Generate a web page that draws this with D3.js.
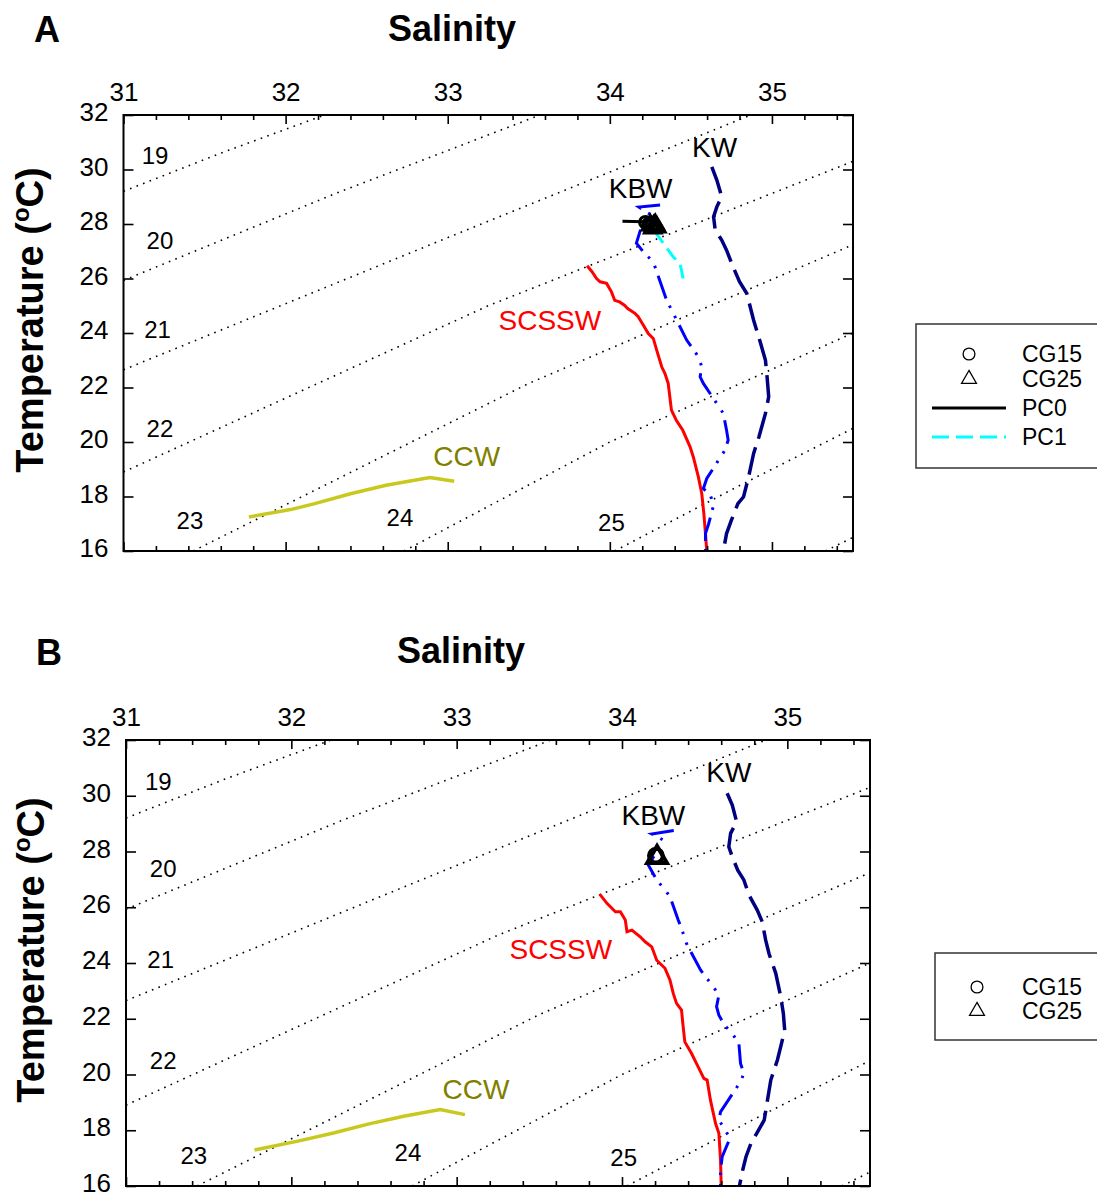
<!DOCTYPE html>
<html>
<head>
<meta charset="utf-8">
<script src="https://cdn.jsdelivr.net/npm/d3@7"></script>
<style>
  body { margin: 0; background: #fff; }
  svg { display: block; font-family: "Liberation Sans", Arial, sans-serif; }
</style>
</head>
<body>
<div id="plot"></div>
<script>
// axis values
const salinityTicks = [31, 32, 33, 34, 35];
const salinityMinor = [31.2, 31.4, 31.6, 31.8, 32.2, 32.4, 32.6, 32.8, 33.2, 33.4, 33.6, 33.8,
  34.2, 34.4, 34.6, 34.8, 35.2, 35.4];
const tempTicks = [16, 18, 20, 22, 24, 26, 28, 30, 32];

// sigma-t isopycnals, [salinity, temperature]
const sigmaLines = [
  [[31, 29.2], [31.6, 30.6], [32.24, 32]],
  [[31, 25.93], [32.3, 29.1], [33.57, 32]],
  [[31, 22.65], [33.0, 27.5], [34.87, 32]],
  [[31, 18.9], [33.25, 25.0], [35.5, 30.3]],
  [[31.43, 16], [33.5, 22.15], [35.5, 27.24]],
  [[32.73, 16], [34.0, 20.0], [35.5, 24.0]],
  [[34.03, 16], [34.8, 18.4], [35.5, 20.5]],
  [[35.33, 16], [35.5, 16.5]]
];
const sigmaLabels = ['19', '20', '21', '22', '23', '24', '25'];
const sigmaLabelS = [31.195, 31.225, 31.21, 31.225, 31.41, 32.705, 34.01];
const sigmaLabelT = [30.5, 27.38, 24.11, 20.51, 17.1, 17.21, 17.03];

// water mass labels
const massNames = ['KW', 'KBW', 'SCSSW', 'CCW'];
const massColors = ['#000', '#000', '#ff0000', '#808000'];
const massS = [34.646, 34.19, 33.63, 33.117];
const massT = [30.83, 29.32, 24.48, 19.49];

// panel A profiles
const scsswA = [[33.86, 26.47], [33.89, 26.25], [33.918, 26.0], [33.94, 25.88], [33.98, 25.82], [34.01, 25.51],
  [34.03, 25.2], [34.06, 25.14], [34.09, 25.02], [34.11, 24.9], [34.155, 24.72], [34.175, 24.6], [34.206, 24.29],
  [34.237, 23.98], [34.268, 23.8], [34.289, 23.37], [34.32, 22.76], [34.34, 22.51], [34.36, 22.15], [34.38, 21.17],
  [34.41, 20.8], [34.45, 20.43], [34.495, 19.82], [34.515, 19.45], [34.546, 18.72], [34.567, 18.11], [34.58, 17.37],
  [34.59, 16.64], [34.598, 16.0]];
const kwA = [[34.629, 30.1], [34.66, 29.61], [34.69, 29.0], [34.66, 28.63], [34.64, 28.27], [34.65, 27.78],
  [34.69, 27.41], [34.72, 27.04], [34.76, 26.43], [34.8, 25.88], [34.845, 25.45], [34.887, 24.47], [34.93, 23.62],
  [34.96, 23.0], [34.97, 22.39], [34.98, 21.66], [34.96, 21.05], [34.92, 20.19], [34.887, 19.58], [34.856, 18.72],
  [34.825, 17.99], [34.79, 17.74], [34.75, 17.13], [34.72, 16.64], [34.7, 16.0]];
const kbwA = [[34.31, 28.7], [34.18, 28.62], [34.255, 28.33], [34.195, 27.9], [34.164, 27.3], [34.21, 26.95],
  [34.268, 26.61], [34.35, 25.21], [34.474, 23.74], [34.546, 23.13], [34.567, 22.76], [34.557, 22.39],
  [34.577, 22.15], [34.66, 21.41], [34.7, 21.05], [34.72, 20.43], [34.73, 20.07], [34.71, 19.7], [34.598, 18.66],
  [34.577, 18.29], [34.62, 18.05], [34.64, 17.68], [34.61, 17.01], [34.59, 16.64], [34.59, 16.0]];
const ccwA = [[31.774, 17.25], [32.03, 17.52], [32.18, 17.74], [32.4, 18.1], [32.62, 18.41], [32.89, 18.7],
  [33.04, 18.56]];
const pc0A = [[34.078, 28.1], [34.21, 28.08]];
const pc1A = [[34.278, 27.72], [34.33, 27.29], [34.39, 26.8], [34.433, 26.55], [34.454, 25.94]];
const cg15A = [[34.22, 28.06], [34.24, 28.0], [34.26, 27.96]];
const cg25A = [[34.25, 27.96], [34.27, 27.92], [34.29, 27.88], [34.265, 27.85], [34.28, 27.98]];

// panel B profiles
const scsswB = [[33.865, 26.47], [33.909, 26.14], [33.96, 25.84], [33.99, 25.84], [34.02, 25.54], [34.03, 25.12],
  [34.06, 25.18], [34.11, 24.94], [34.14, 24.76], [34.18, 24.58], [34.21, 24.1], [34.26, 23.81], [34.29, 23.39],
  [34.31, 22.91], [34.33, 22.55], [34.36, 22.31], [34.37, 21.71], [34.38, 21.17], [34.42, 20.76], [34.46, 20.28],
  [34.495, 19.86], [34.515, 19.8], [34.535, 19.08], [34.566, 18.24], [34.586, 17.89], [34.596, 16.93],
  [34.6, 16.0]];
const kwB = [[34.636, 30.09], [34.667, 29.67], [34.693, 29.07], [34.657, 28.65], [34.646, 28.17], [34.667, 27.81],
  [34.7, 27.33], [34.737, 26.98], [34.768, 26.44], [34.818, 25.9], [34.848, 25.48], [34.869, 24.82],
  [34.889, 24.34], [34.93, 23.63], [34.96, 22.79], [34.976, 22.19], [34.984, 21.59], [34.96, 21.0],
  [34.94, 20.52], [34.9, 19.8], [34.88, 19.08], [34.86, 18.36], [34.82, 17.94], [34.78, 17.53], [34.75, 17.05],
  [34.73, 16.57], [34.71, 16.0]];
const kbwB = [[34.313, 28.75], [34.18, 28.63], [34.25, 28.41], [34.2, 27.9], [34.16, 27.51], [34.21, 26.98],
  [34.26, 26.62], [34.29, 26.38], [34.34, 25.54], [34.36, 25.24], [34.39, 24.7], [34.475, 23.75], [34.505, 23.51],
  [34.545, 23.21], [34.586, 22.85], [34.572, 22.43], [34.586, 22.13], [34.62, 21.77], [34.667, 21.47],
  [34.707, 21.11], [34.717, 20.4], [34.737, 20.04], [34.717, 19.74], [34.596, 18.66], [34.586, 18.36],
  [34.626, 18.0], [34.652, 17.7], [34.606, 17.05], [34.596, 16.57], [34.596, 16.0]];
const ccwB = [[31.777, 17.29], [32.04, 17.61], [32.255, 17.9], [32.47, 18.23], [32.68, 18.5], [32.9, 18.74],
  [33.05, 18.56]];
const cg15B = [[34.205, 27.85]];
const cg25B = [[34.212, 27.79]];

const svg = d3.select('#plot')
  .append('svg')
  .attr('width', 1097)
  .attr('height', 1198);

svg.append('rect').attr('width', 1097).attr('height', 1198).attr('fill', '#fff');

function drawPanel(p) {
  const x = d3.scaleLinear().domain([31, 35.5]).range([p.left, p.right]);
  const y = d3.scaleLinear().domain([16, 32]).range([p.bottom, p.top]);
  const line = d3.line().x(d => x(d[0])).y(d => y(d[1]));

  svg.append('clipPath').attr('id', 'clip' + p.name)
    .append('rect')
    .attr('x', p.left).attr('y', p.top)
    .attr('width', p.right - p.left).attr('height', p.bottom - p.top);

  const plot = svg.append('g').attr('clip-path', 'url(#clip' + p.name + ')');

  // isopycnals
  plot.selectAll('path.sigma')
    .data(sigmaLines)
    .enter()
    .append('path')
    .attr('class', 'sigma')
    .attr('d', line)
    .attr('fill', 'none')
    .attr('stroke', '#000')
    .attr('stroke-width', 1.6)
    .attr('stroke-dasharray', '1.6,5.4');

  svg.selectAll('text.sig' + p.name)
    .data(sigmaLabels)
    .enter()
    .append('text')
    .attr('class', 'sig' + p.name)
    .attr('x', (d, i) => x(sigmaLabelS[i]))
    .attr('y', (d, i) => y(sigmaLabelT[i]))
    .attr('dy', '0.35em')
    .attr('text-anchor', 'middle')
    .attr('font-size', 24)
    .text(d => d);

  // profiles
  const series = [
    {d: p.ccw, color: '#c8c81e', w: 3.5, dash: null},
    {d: p.scssw, color: '#ff0000', w: 3, dash: null},
    {d: p.kw, color: '#000080', w: 3.5, dash: '28,9'},
    {d: p.kbw, color: '#0000ff', w: 3, dash: '24,8,2.5,9,2.5,8'},
    {d: p.pc1, color: '#00ffff', w: 3, dash: '14,7'},
    {d: p.pc0, color: '#000', w: 3, dash: null}
  ].filter(s => s.d);

  plot.selectAll('path.prof')
    .data(series)
    .enter()
    .append('path')
    .attr('class', 'prof')
    .attr('d', s => line(s.d))
    .attr('fill', 'none')
    .attr('stroke', s => s.color)
    .attr('stroke-width', s => s.w)
    .attr('stroke-dasharray', s => s.dash);

  const tri = d3.symbol().type(d3.symbolTriangle).size(p.triSize);
  const circ = d3.symbol().type(d3.symbolCircle).size(p.circSize);
  plot.selectAll('path.cg15')
    .data(p.cg15).enter().append('path')
    .attr('class', 'cg15')
    .attr('d', circ)
    .attr('transform', d => `translate(${x(d[0])},${y(d[1])})`)
    .attr('fill', 'none').attr('stroke', '#000').attr('stroke-width', p.symW);
  plot.selectAll('path.cg25')
    .data(p.cg25).enter().append('path')
    .attr('class', 'cg25')
    .attr('d', tri)
    .attr('transform', d => `translate(${x(d[0])},${y(d[1])})`)
    .attr('fill', 'none').attr('stroke', '#000').attr('stroke-width', p.symW);

  svg.selectAll('text.mass' + p.name)
    .data(massNames)
    .enter()
    .append('text')
    .attr('class', 'mass' + p.name)
    .attr('x', (d, i) => x(massS[i]))
    .attr('y', (d, i) => y(massT[i]))
    .attr('dy', '0.35em')
    .attr('text-anchor', 'middle')
    .attr('font-size', 28)
    .attr('fill', (d, i) => massColors[i])
    .text(d => d);

  // axes, ticks point inward
  function styleAxis(g) {
    g.select('.domain').remove();
    g.selectAll('line').attr('stroke', '#000').attr('stroke-width', 1.6);
    g.selectAll('text').attr('font-size', 26).attr('fill', '#000')
      .attr('font-family', '"Liberation Sans", Arial, sans-serif');
  }
  svg.append('g').attr('transform', `translate(0,${p.top})`)
    .call(d3.axisTop(x).tickValues(salinityTicks).tickSize(-9).tickSizeOuter(0).tickPadding(14).tickFormat(d3.format('d')))
    .call(styleAxis);
  svg.append('g').attr('transform', `translate(0,${p.top})`)
    .call(d3.axisTop(x).tickValues(salinityMinor).tickSize(-5).tickSizeOuter(0).tickFormat(''))
    .call(styleAxis);
  svg.append('g').attr('transform', `translate(0,${p.bottom})`)
    .call(d3.axisBottom(x).tickValues(salinityTicks).tickSize(-9).tickSizeOuter(0).tickFormat(''))
    .call(styleAxis);
  svg.append('g').attr('transform', `translate(0,${p.bottom})`)
    .call(d3.axisBottom(x).tickValues(salinityMinor).tickSize(-5).tickSizeOuter(0).tickFormat(''))
    .call(styleAxis);
  svg.append('g').attr('transform', `translate(${p.left},0)`)
    .call(d3.axisLeft(y).tickValues(tempTicks).tickSize(-10).tickSizeOuter(0).tickPadding(15).tickFormat(d3.format('d')))
    .call(styleAxis)
    .selectAll('text').attr('dy', '0.22em');
  svg.append('g').attr('transform', `translate(${p.right},0)`)
    .call(d3.axisRight(y).tickValues(tempTicks).tickSize(-10).tickSizeOuter(0).tickFormat(''))
    .call(styleAxis);

  svg.append('rect')
    .attr('x', p.left).attr('y', p.top)
    .attr('width', p.right - p.left).attr('height', p.bottom - p.top)
    .attr('fill', 'none').attr('stroke', '#000').attr('stroke-width', 2);

  // titles
  svg.append('text')
    .attr('x', p.letterX).attr('y', p.letterY)
    .attr('text-anchor', 'middle').attr('font-weight', 'bold').attr('font-size', 36)
    .text(p.name);
  svg.append('text')
    .attr('x', p.titleX).attr('y', p.titleY)
    .attr('text-anchor', 'middle').attr('font-weight', 'bold').attr('font-size', 36)
    .text('Salinity');
  const yt = svg.append('text')
    .attr('transform', `translate(${p.ytitleX},${p.ytitleY}) rotate(-90)`)
    .attr('text-anchor', 'middle').attr('font-weight', 'bold').attr('font-size', 38);
  yt.append('tspan').text('Temperature (');
  yt.append('tspan').attr('dy', -14).attr('font-size', 24).text('o');
  yt.append('tspan').attr('dy', 14).text('C)');
}

function drawLegend(l) {
  const g = svg.append('g');
  g.append('rect')
    .attr('x', l.x).attr('y', l.y).attr('width', 220).attr('height', l.h)
    .attr('fill', '#fff').attr('stroke', '#333').attr('stroke-width', 1.5);
  l.items.forEach(it => {
    if (it.type === 'circle' || it.type === 'triangle') {
      g.append('path')
        .attr('d', d3.symbol().type(it.type === 'circle' ? d3.symbolCircle : d3.symbolTriangle).size(it.type === 'circle' ? 110 : 95))
        .attr('transform', `translate(${l.symX},${it.y})`)
        .attr('fill', 'none').attr('stroke', '#000').attr('stroke-width', 1.3);
    } else {
      g.append('line')
        .attr('x1', l.lineX1).attr('x2', l.lineX2).attr('y1', it.y).attr('y2', it.y)
        .attr('stroke', it.color).attr('stroke-width', 3)
        .attr('stroke-dasharray', it.dash);
    }
    g.append('text')
      .attr('x', l.textX).attr('y', it.y).attr('dy', '0.35em')
      .attr('font-size', 23)
      .text(it.label);
  });
}

drawPanel({
  name: 'A', left: 123.5, right: 853, top: 115, bottom: 551,
  letterX: 47, letterY: 42, titleX: 452, titleY: 41, ytitleX: 43, ytitleY: 320,
  scssw: scsswA, kw: kwA, kbw: kbwA, ccw: ccwA, pc0: pc0A, pc1: pc1A,
  cg15: cg15A, cg25: cg25A, triSize: 120, circSize: 110, symW: 3
});
drawPanel({
  name: 'B', left: 126, right: 870, top: 740, bottom: 1186,
  letterX: 49, letterY: 665, titleX: 461, titleY: 663, ytitleX: 44, ytitleY: 950,
  scssw: scsswB, kw: kwB, kbw: kbwB, ccw: ccwB, pc0: null, pc1: null,
  cg15: cg15B, cg25: cg25B, triSize: 170, circSize: 150, symW: 4
});

drawLegend({
  x: 916, y: 324, h: 144, symX: 969, textX: 1022, lineX1: 932, lineX2: 1006,
  items: [
    {type: 'circle', label: 'CG15', y: 354},
    {type: 'triangle', label: 'CG25', y: 379},
    {type: 'line', label: 'PC0', y: 408, color: '#000', dash: null},
    {type: 'line', label: 'PC1', y: 437, color: '#00ffff', dash: '17,7'}
  ]
});
drawLegend({
  x: 935, y: 953, h: 87, symX: 977, textX: 1022,
  items: [
    {type: 'circle', label: 'CG15', y: 987},
    {type: 'triangle', label: 'CG25', y: 1011}
  ]
});
</script>
</body>
</html>
